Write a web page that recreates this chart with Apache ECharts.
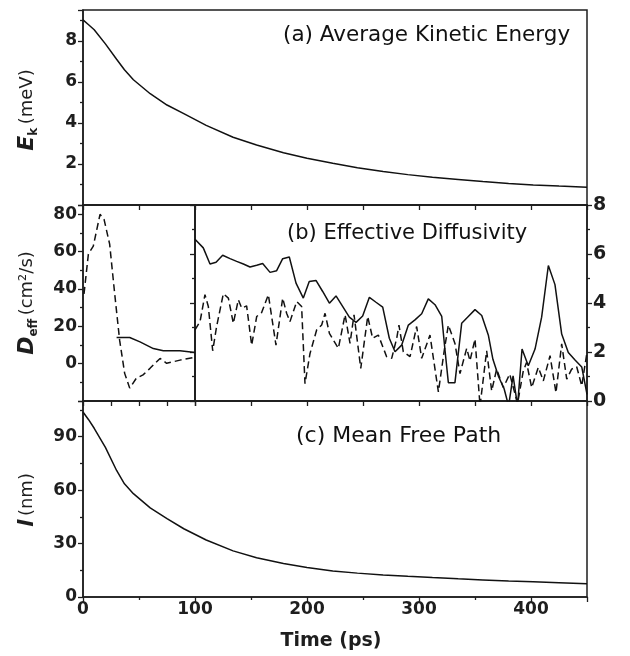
<!DOCTYPE html>
<html>
<head>
<meta charset="utf-8">
<script src="https://cdn.jsdelivr.net/npm/echarts@6/dist/echarts.min.js"></script>
<style>
html, body { margin: 0; padding: 0; background: #fff; }
#chart { width: 630px; height: 656px; }
</style>
</head>
<body>
<div id="chart"></div>
<script>
// (a) and (c) share the same time samples
var timeAC = [0, 5, 10, 20, 30, 37, 45, 60, 75, 90, 110, 134, 155, 179, 200, 223, 245, 268, 290, 312, 335, 357, 380, 402, 425, 450];
var kineticEnergy = [9.02, 8.78, 8.54, 7.85, 7.1, 6.59, 6.1, 5.42, 4.87, 4.45, 3.88, 3.30, 2.92, 2.55, 2.28, 2.03, 1.82, 1.63, 1.48, 1.35, 1.24, 1.14, 1.05, 0.98, 0.92, 0.86];
var meanFreePath = [103.8, 99.5, 94.7, 84, 71, 63.5, 58, 50, 44, 38.3, 32, 25.9, 22, 18.8, 16.6, 14.6, 13.4, 12.4, 11.6, 10.9, 10.2, 9.6, 9.0, 8.5, 8.0, 7.5];

// (b) left part, 0-100 ps, left axis
var timeLeftDashed = [0.9, 4.8, 9.2, 15.2, 18.8, 23.8, 28.3, 32.7, 37.2, 41.7, 47.6, 53.6, 59.8, 68.8, 74.7, 86.6, 100];
var diffLeftDashed = [37.4, 58.7, 63, 80, 77.3, 64, 37.4, 12.6, -5.2, -13.1, -7.8, -6, -2.5, 2.8, 0.2, 1.9, 3.4];
var timeLeftSolid = [30, 41.7, 50.9, 62.8, 71.7, 86.6, 100];
var diffLeftSolid = [14, 14, 11.7, 8.1, 6.9, 6.9, 6.0];

// (b) right part, 100-450 ps, right axis
var timeRightSolid = [100, 100.9, 107.4, 113.4, 118.8, 124.7, 131.3, 137.2, 143.2, 149.1, 155.1, 160.4, 167, 172.9, 178.3, 184.2, 190.2, 196.7, 202, 208, 214, 220, 225.9, 231.8, 237.8, 243.8, 249.7, 255.7, 261.6, 267.6, 273.5, 278.6, 284.5, 290.5, 296.4, 302.4, 308.3, 314.3, 320.3, 323.2, 326.2, 332.1, 338.1, 344, 350, 356, 362, 366, 371, 376, 380, 384, 388, 392, 397.6, 403.6, 409.5, 415.5, 421.4, 427.4, 433.3, 439.3, 445.3, 450];
var diffRightSolid = [6.6, 6.52, 6.25, 5.59, 5.66, 5.95, 5.81, 5.70, 5.59, 5.47, 5.54, 5.61, 5.25, 5.32, 5.81, 5.88, 4.81, 4.20, 4.88, 4.92, 4.47, 3.99, 4.29, 3.86, 3.42, 3.21, 3.47, 4.23, 4.03, 3.83, 2.56, 2.01, 2.28, 3.10, 3.31, 3.56, 4.17, 3.93, 3.45, 2.08, 0.75, 0.75, 3.17, 3.45, 3.73, 3.49, 2.67, 1.7, 1.0, 0.5, -0.2, 1.03, -0.2, 2.12, 1.44, 2.12, 3.42, 5.53, 4.75, 2.73, 1.98, 1.67, 1.39, 0.27];
var timeRightDashed = [100, 101.5, 104.5, 108.9, 111.9, 115.8, 119.3, 125.3, 129.8, 134.2, 138.7, 141.7, 146.1, 150.6, 155.1, 159.5, 165.5, 172.3, 178.3, 181.8, 184.8, 190.8, 195.2, 198.2, 202.7, 208.6, 213.1, 216.1, 220, 223.5, 228, 234, 238.4, 242, 248, 254.2, 258.6, 263.7, 271.1, 275.6, 280.1, 282.1, 286, 292, 297.9, 302.4, 309.8, 317.3, 322.6, 326.2, 332.1, 336.6, 342.6, 345.5, 350, 354.5, 360.4, 364.9, 369.3, 375.3, 381, 388, 393, 396, 400.6, 406.5, 411, 417, 422.3, 427.4, 431.9, 436.3, 440.8, 445.3, 449.7];
var diffRightDashed = [2.9, 2.83, 3.24, 4.34, 3.86, 2.05, 3.04, 4.38, 4.20, 3.17, 4.13, 3.79, 3.88, 2.28, 3.45, 3.61, 4.34, 2.28, 4.20, 3.58, 3.24, 4.06, 3.86, 0.71, 1.94, 2.90, 3.10, 3.58, 2.76, 2.49, 2.15, 3.52, 2.35, 3.52, 1.33, 3.45, 2.56, 2.69, 1.81, 1.74, 2.56, 3.10, 2.01, 1.81, 3.04, 1.74, 2.69, 0.37, 2.08, 3.10, 2.35, 1.12, 2.15, 1.64, 2.53, -0.2, 2.05, 0.41, 1.30, 0.55, 1.1, -0.1, 1.2, 1.57, 0.55, 1.37, 0.82, 1.85, 0.34, 2.33, 0.89, 1.30, 1.4, 0.62, 1.9];

var INK = '#1e1e1e';
var FONT = 'DejaVu Sans';

function pairs(xs, ys) {
    return xs.map(function (x, i) { return [x, ys[i]]; });
}

function xAxisOf(grid, min, max, interval, showLabel) {
    return {
        type: 'value', gridIndex: grid, min: min, max: max, interval: interval,
        position: 'bottom',
        axisLine: { show: true, onZero: false, lineStyle: { color: INK, width: 1.5 } },
        axisTick: { show: true, inside: false, length: 5, lineStyle: { color: INK, width: 1.3 } },
        minorTick: { show: showLabel, splitNumber: 2, length: 3, lineStyle: { color: INK, width: 1.3 } },
        axisLabel: {
            show: showLabel, margin: 4, color: INK, fontFamily: FONT, fontWeight: 'bold', fontSize: 17,
            formatter: function (v) { return v % 100 === 0 ? v : ''; }
        },
        splitLine: { show: false }
    };
}

function yAxisOf(grid, pos, min, max, interval, labelFn, fontSize) {
    return {
        type: 'value', gridIndex: grid, position: pos, min: min, max: max, interval: interval,
        axisLine: { show: true, onZero: false, lineStyle: { color: INK, width: 1.5 } },
        axisTick: { show: true, inside: false, length: 5, lineStyle: { color: INK, width: 1.3 } },
        minorTick: { show: true, splitNumber: 2, length: 3, lineStyle: { color: INK, width: 1.3 } },
        axisLabel: {
            show: !!labelFn, margin: 6, color: INK, fontFamily: FONT, fontWeight: 'bold',
            fontSize: fontSize || 17, formatter: labelFn || undefined
        },
        splitLine: { show: false }
    };
}

function lineOf(xi, yi, data, dashed) {
    return {
        type: 'line', xAxisIndex: xi, yAxisIndex: yi, data: data,
        showSymbol: false, clip: true, animation: false,
        lineStyle: { color: '#111', width: 1.5, type: dashed ? [7, 4] : 'solid' }
    };
}

function title(text, x, y, size) {
    return {
        type: 'text', x: x, y: y, silent: true,
        style: {
            text: text, fill: '#111', font: 'normal ' + size + 'px "' + FONT + '"',
            align: 'left', verticalAlign: 'middle', textAlign: 'left', textVerticalAlign: 'middle'
        }
    };
}

function axisName(x, y, text, rich) {
    return {
        type: 'text', x: x, y: y, rotation: Math.PI / 2, silent: true,
        style: {
            text: text, rich: rich, fill: INK,
            align: 'center', verticalAlign: 'middle', textAlign: 'center', textVerticalAlign: 'middle'
        }
    };
}

var bigItalic = { fontFamily: FONT, fontStyle: 'italic', fontWeight: 'bold', fontSize: 22, lineHeight: 26, verticalAlign: 'middle', color: INK };
var subBold = { fontFamily: FONT, fontWeight: 'bold', fontSize: 12, lineHeight: 12, verticalAlign: 'bottom', color: INK };
var unitText = { fontFamily: FONT, fontSize: 18, lineHeight: 26, verticalAlign: 'middle', color: INK };

var chart = echarts.init(document.getElementById('chart'), null, { renderer: 'canvas' });

chart.setOption({
    backgroundColor: '#fff',
    animation: false,
    grid: [
        { left: 83, top: 10, width: 504, height: 195, show: true, borderColor: INK, borderWidth: 1.5 },
        { left: 83, top: 205, width: 112, height: 196, show: true, borderColor: INK, borderWidth: 1.5 },
        { left: 195, top: 205, width: 392, height: 196, show: true, borderColor: INK, borderWidth: 1.5 },
        { left: 83, top: 401, width: 504, height: 196, show: true, borderColor: INK, borderWidth: 1.5 }
    ],
    xAxis: [
        xAxisOf(0, 0, 450, 50, false),
        xAxisOf(1, 0, 100, 25, false),
        xAxisOf(2, 100, 450, 50, false),
        xAxisOf(3, 0, 450, 100, true)
    ],
    yAxis: [
        yAxisOf(0, 'left', 0, 9.5, 2, function (v) { return (v > 0 && v % 2 === 0) ? v : ''; }),
        yAxisOf(1, 'left', -20, 85, 20, function (v) { return (v >= 0 && v % 20 === 0) ? v : ''; }),
        yAxisOf(2, 'right', 0, 8, 2, function (v) { return v; }, 19),
        yAxisOf(2, 'left', 0, 8, 2, null),
        yAxisOf(3, 'left', 0, 110, 30, function (v) { return (v % 30 === 0) ? v : ''; })
    ],
    series: [
        lineOf(0, 0, pairs(timeAC, kineticEnergy), false),
        lineOf(1, 1, pairs(timeLeftDashed, diffLeftDashed), true),
        lineOf(1, 1, pairs(timeLeftSolid, diffLeftSolid), false),
        lineOf(2, 2, pairs(timeRightDashed, diffRightDashed), true),
        lineOf(2, 2, pairs(timeRightSolid, diffRightSolid), false),
        lineOf(3, 4, pairs(timeAC, meanFreePath), false)
    ],
    graphic: [
        title('(a) Average Kinetic Energy', 283, 35, 21.5),
        title('(b) Effective Diffusivity', 287, 234, 21),
        title('(c) Mean Free Path', 296, 436, 22),
        axisName(27, 110, '{e|E}{s|k} {u|(meV)}', { e: bigItalic, s: subBold, u: unitText }),
        axisName(27, 303, '{e|D}{s|eff} {u|(cm²/s)}', { e: bigItalic, s: subBold, u: unitText }),
        axisName(27, 500, '{e|l} {u|(nm)}', { e: bigItalic, u: unitText }),
        {
            type: 'text', x: 331, y: 641, silent: true,
            style: {
                text: 'Time (ps)', fill: INK, font: 'bold 19px "' + FONT + '"',
                align: 'center', verticalAlign: 'middle', textAlign: 'center', textVerticalAlign: 'middle'
            }
        }
    ]
});
</script>
</body>
</html>
